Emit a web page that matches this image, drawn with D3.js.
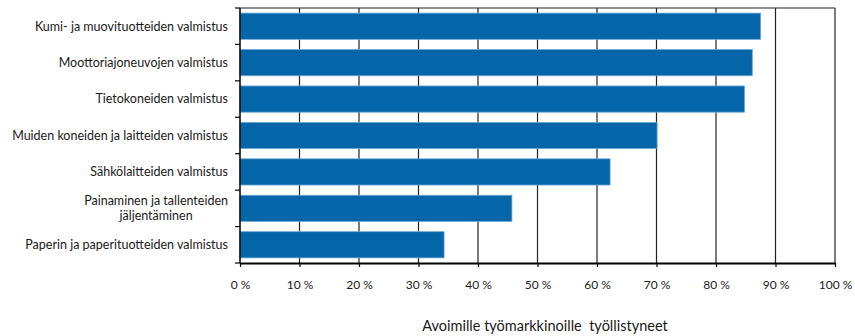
<!DOCTYPE html>
<html><head><meta charset="utf-8">
<script src="https://cdn.jsdelivr.net/npm/d3@7"></script>
<style>body{margin:0;background:#fff}svg{display:block}text{font-family:Lato,"Open Sans",sans-serif;fill:#1a1a1a}</style>
</head><body>
<svg id="c" width="855" height="336"></svg>
<script>
const categories = ["Kumi- ja muovituotteiden valmistus","Moottoriajoneuvojen valmistus","Tietokoneiden valmistus","Muiden koneiden ja laitteiden valmistus","Sähkölaitteiden valmistus","Painaminen ja tallenteiden\njäljentäminen","Paperin ja paperituotteiden valmistus"];
const values = [87.5, 86.1, 84.8, 70.1, 62.2, 45.7, 34.3];
const xTicks = [0,10,20,30,40,50,60,70,80,90,100];
const xTitle = "Avoimille työmarkkinoille  työllistyneet";

const svg = d3.select("#c");
const L = 240, R = 835, T = 8, B = 263;
const x = d3.scaleLinear().domain([0,100]).range([L,R]);
const y = d3.scaleBand().domain(categories).range([T,B]).paddingInner(0.28).paddingOuter(0.14);

// gridlines
svg.append("g").selectAll("line").data(xTicks.filter(d=>d>0)).join("line")
  .attr("x1",d=>x(d)).attr("x2",d=>x(d)).attr("y1",T).attr("y2",B)
  .attr("stroke","#222").attr("stroke-width",1.2);
// top border
svg.append("line").attr("x1",L).attr("x2",R).attr("y1",T).attr("y2",T).attr("stroke","#222").attr("stroke-width",1.2);

// bars
svg.append("g").selectAll("rect").data(values).join("rect")
  .attr("x",x(0)).attr("y",(d,i)=>y(categories[i]))
  .attr("width",d=>x(d)-x(0)).attr("height",y.bandwidth())
  .attr("fill","#0465a8").attr("stroke","#6fa8d6").attr("stroke-width",0.8);

// x axis
const xa = svg.append("g").attr("transform",`translate(0,${B})`)
  .call(d3.axisBottom(x).tickValues(xTicks).tickSize(4).tickSizeOuter(0).tickFormat(d=>d+" %"));
xa.select(".domain").attr("stroke","#000").attr("stroke-width",2);
xa.selectAll(".tick line").attr("stroke","#000").attr("stroke-width",1.2);
xa.selectAll(".tick text").attr("dy","1.55em").style("font-size","12px").attr("fill","#1a1a1a");

// y axis
const bounds = d3.range(categories.length+1).map(i=>T+i*(B-T)/categories.length);
svg.append("line").attr("x1",L).attr("x2",L).attr("y1",T).attr("y2",B).attr("stroke","#000").attr("stroke-width",1.5);
svg.append("g").selectAll("line").data(bounds).join("line")
  .attr("x1",L-5).attr("x2",L).attr("y1",d=>d).attr("y2",d=>d).attr("stroke","#000").attr("stroke-width",1.2);

// category labels
const LX = 228;
const lab = svg.append("g").selectAll("text").data(categories).join("text")
  .attr("x",LX).attr("text-anchor","end").style("font-size","12.5px");
lab.each(function(d){
  const lines = d.split("\n");
  const cy = y(d)+y.bandwidth()/2;
  const lh = 14.5;
  const t = d3.select(this);
  lines.forEach((ln,k)=>{
    t.append("tspan").attr("x", LX).attr("text-anchor","end")
     .attr("y", cy + (k-(lines.length-1)/2)*lh).attr("dy","0.35em").text(ln);
  });
});
lab.filter(d=>d.includes("\n")).each(function(){
  const ts = d3.select(this).selectAll("tspan").nodes();
  const w0 = ts[0].getComputedTextLength();
  d3.select(ts[1]).attr("text-anchor","middle").attr("x",LX - w0/2);
});

// x title
svg.append("text").attr("x",545).attr("y",331).attr("text-anchor","middle")
  .style("font-size","14.5px").style("white-space","pre").text(xTitle);
</script>
</body></html>
